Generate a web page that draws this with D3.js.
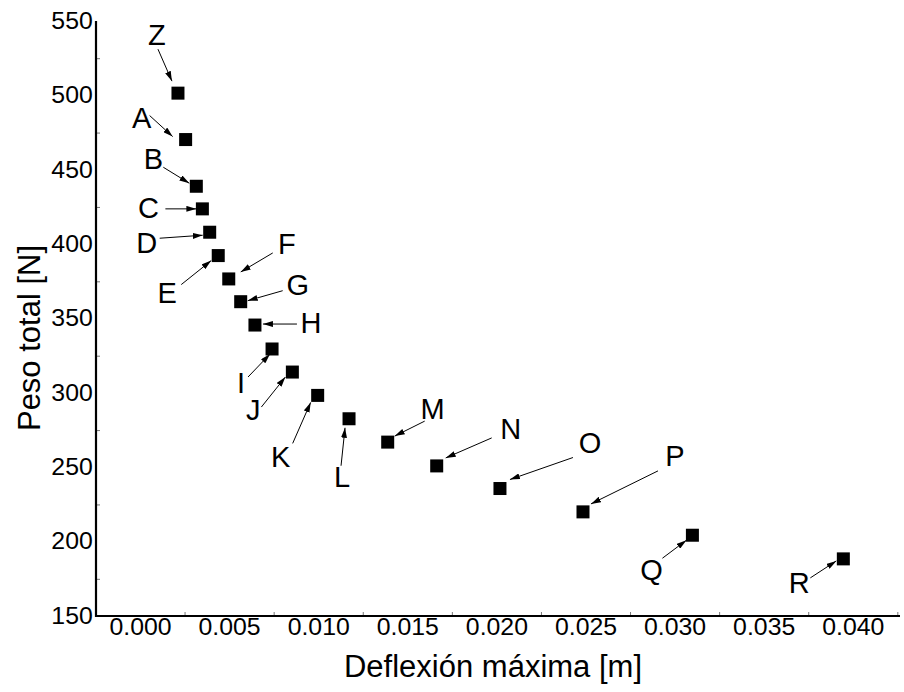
<!DOCTYPE html>
<html>
<head>
<meta charset="utf-8">
<script src="https://cdn.jsdelivr.net/npm/d3@7"></script>
<style>
    body { margin: 0; background: #fff; }
    text { font-family: "Liberation Sans", Arial, sans-serif; fill: #000; }
</style>
</head>
<body>
<div id="chart"></div>
<script>
// Data
const labels = ["Z", "A", "B", "C", "D", "E", "F", "G", "H", "I", "J", "K", "L", "M", "N", "O", "P", "Q", "R"];
const deflection = [0.00213, 0.00256, 0.00316, 0.0035, 0.00391, 0.00439, 0.00498, 0.00565, 0.00645, 0.00741,
    0.00855, 0.00997, 0.01173, 0.0139, 0.01665, 0.0202, 0.02486, 0.031, 0.03947];
const weight = [501.5, 470.3, 438.9, 423.7, 408, 392.3, 376.6, 361.3, 345.6, 329.5,
    314, 298.3, 282.6, 266.9, 250.9, 235.7, 220, 204.3, 188.4];
const xTicks = [0, 0.005, 0.010, 0.015, 0.020, 0.025, 0.030, 0.035, 0.040];
const yTicks = [150, 200, 250, 300, 350, 400, 450, 500, 550];

// Annotation layout: label centre and arrow start/end, as pixel offsets from the marker
const annot = {
    Z: { t: [-21, -58], a: [-20, -44], b: [-6, -12] },
    A: { t: [-44, -22], a: [-36, -24], b: [-13, -3] },
    B: { t: [-43, -27], a: [-33, -19], b: [-7, -3] },
    C: { t: [-54, -1], a: [-37, 0], b: [-6, 0] },
    D: { t: [-63, 11], a: [-50, 6], b: [-7, 3] },
    E: { t: [-51, 37], a: [-37, 29], b: [-7, 5] },
    F: { t: [58, -35], a: [44, -26], b: [12, -7] },
    G: { t: [57, -17], a: [42, -11], b: [7, -1] },
    H: { t: [56, -2], a: [42, -1], b: [8, -1] },
    I: { t: [-31, 34], a: [-24, 28], b: [-2, 5] },
    J: { t: [-39, 38], a: [-31, 35], b: [-7, 5] },
    K: { t: [-37, 62], a: [-25, 48], b: [-7, 7] },
    L: { t: [-7, 58], a: [-8, 47], b: [-4, 9] },
    M: { t: [45, -33], a: [37, -21], b: [7, -6] },
    N: { t: [74, -37], a: [55, -28], b: [9, -8] },
    O: { t: [90, -46], a: [73, -31], b: [10, -9] },
    P: { t: [92, -56], a: [75, -41], b: [8, -8] },
    Q: { t: [-41, 35], a: [-30, 23], b: [-6, 5] },
    R: { t: [-44, 24], a: [-33, 19], b: [-7, 2] }
};

const width = 904, height = 692;

const svg = d3.select("#chart").append("svg")
    .attr("width", width)
    .attr("height", height);

svg.append("rect").attr("width", width).attr("height", height).attr("fill", "#fff");

const x = d3.scaleLinear().domain([-0.00247, 0.04265]).range([96, 900]);
const y = d3.scaleLinear().domain([150, 550]).range([616, 21]);

// Minor ticks (inward, between the labelled values)
const xMinor = d3.range(0.0025, 0.043, 0.005);
const yMinor = d3.range(175, 550, 50);

svg.append("g")
    .attr("transform", `translate(0,${y(150)})`)
    .call(d3.axisTop(x).tickValues(xMinor).tickSize(4).tickFormat(""))
    .call(g => g.select(".domain").remove())
    .selectAll("line").attr("stroke", "#777");

svg.append("g")
    .attr("transform", `translate(${x.range()[0]},0)`)
    .call(d3.axisRight(y).tickValues(yMinor).tickSize(4).tickFormat(""))
    .call(g => g.select(".domain").remove())
    .selectAll("line").attr("stroke", "#777");

// Tick labels
const xAxis = svg.append("g")
    .attr("transform", `translate(0,${y(150)})`)
    .call(d3.axisBottom(x).tickValues(xTicks).tickSize(0).tickPadding(3).tickFormat(d3.format(".3f")));
xAxis.select(".domain").remove();
xAxis.selectAll("text").style("font-size", "23px").attr("font-family", null)
    .attr("transform", "scale(1.08,1)");

const yAxis = svg.append("g")
    .attr("transform", `translate(${x.range()[0]},0)`)
    .call(d3.axisLeft(y).tickValues(yTicks).tickSize(0).tickPadding(3));
yAxis.select(".domain").remove();
yAxis.selectAll("text").style("font-size", "23px").attr("font-family", null)
    .attr("transform", "scale(1.08,1)");

// Axis lines
svg.append("line")
    .attr("x1", x.range()[0]).attr("x2", x.range()[1])
    .attr("y1", y(150)).attr("y2", y(150))
    .attr("stroke", "#000").attr("stroke-width", 2.2);
svg.append("line")
    .attr("x1", x.range()[0]).attr("x2", x.range()[0])
    .attr("y1", y(150) + 1).attr("y2", y(550))
    .attr("stroke", "#000").attr("stroke-width", 2.2);

// Axis titles
svg.append("text")
    .attr("x", 493).attr("y", 677)
    .attr("text-anchor", "middle")
    .style("font-size", "31px")
    .text("Deflexión máxima [m]");

svg.append("text")
    .attr("transform", `translate(40,338) rotate(-90)`)
    .attr("text-anchor", "middle")
    .style("font-size", "31px")
    .text("Peso total [N]");

// Arrowhead marker
svg.append("defs").append("marker")
    .attr("id", "arrow")
    .attr("viewBox", "0 0 10 6")
    .attr("refX", 10).attr("refY", 3)
    .attr("markerWidth", 10).attr("markerHeight", 6)
    .attr("markerUnits", "userSpaceOnUse")
    .attr("orient", "auto")
    .append("path")
    .attr("d", "M0,0L10,3L0,6Z")
    .attr("fill", "#000");

const points = labels.map((l, i) => ({ label: l, dx: deflection[i], w: weight[i] }));

// Arrows and letters
svg.selectAll(".arrow")
    .data(points)
    .enter()
    .append("line")
    .attr("class", "arrow")
    .attr("x1", d => x(d.dx) + annot[d.label].a[0])
    .attr("y1", d => y(d.w) + annot[d.label].a[1])
    .attr("x2", d => x(d.dx) + annot[d.label].b[0])
    .attr("y2", d => y(d.w) + annot[d.label].b[1])
    .attr("stroke", "#000")
    .attr("stroke-width", 1)
    .attr("marker-end", "url(#arrow)");

svg.selectAll(".lbl")
    .data(points)
    .enter()
    .append("text")
    .attr("class", "lbl")
    .attr("x", d => x(d.dx) + annot[d.label].t[0])
    .attr("y", d => y(d.w) + annot[d.label].t[1])
    .attr("text-anchor", "middle")
    .attr("dominant-baseline", "central")
    .style("font-size", "29px")
    .text(d => d.label);

// Square markers
const sz = 13;
svg.selectAll(".pt")
    .data(points)
    .enter()
    .append("rect")
    .attr("class", "pt")
    .attr("x", d => x(d.dx) - sz / 2)
    .attr("y", d => y(d.w) - sz / 2)
    .attr("width", sz)
    .attr("height", sz)
    .attr("fill", "#000");
</script>
</body>
</html>
